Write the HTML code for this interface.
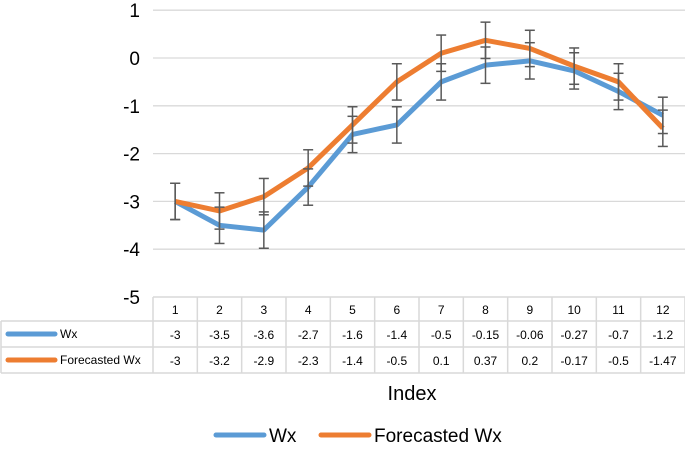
<!DOCTYPE html>
<html><head><meta charset="utf-8"><style>
body{margin:0;background:#fff;font-family:"Liberation Sans",sans-serif}
</style></head><body>
<svg width="685" height="448" id="c" font-family="Liberation Sans, sans-serif"></svg>
<script>
const categories=[1,2,3,4,5,6,7,8,9,10,11,12];
const wx=[-3,-3.5,-3.6,-2.7,-1.6,-1.4,-0.5,-0.15,-0.06,-0.27,-0.7,-1.2];
const forecast=[-3,-3.2,-2.9,-2.3,-1.4,-0.5,0.1,0.37,0.2,-0.17,-0.5,-1.47];
const wxLabels=["-3","-3.5","-3.6","-2.7","-1.6","-1.4","-0.5","-0.15","-0.06","-0.27","-0.7","-1.2"];
const fcLabels=["-3","-3.2","-2.9","-2.3","-1.4","-0.5","0.1","0.37","0.2","-0.17","-0.5","-1.47"];
const yTicks=[1,0,-1,-2,-3,-4,-5];
const errAmt=0.38;
const svg=document.getElementById('c');const NS='http://www.w3.org/2000/svg';
function mk(t,a,p){const e=document.createElementNS(NS,t);for(const k in a)e.setAttribute(k,a[k]);(p||svg).appendChild(e);return e;}
const L=153,CW=(685-L)/12;
const y=v=>58-v*47.8;
const x=i=>L+CW*(i+0.5);
yTicks.forEach(v=>{
 if(v>-5){const g=mk('line',{x1:L,x2:685,y1:y(v),y2:y(v),stroke:'#d9d9d9','stroke-width':1.3});
 
 }
 const t=mk('text',{x:140,y:y(v)+7,'text-anchor':'end','font-size':19,fill:'#000'});t.textContent=v;
 
 
});
function series(vals,color,name){
 const p=mk('polyline',{points:vals.map((v,i)=>x(i)+','+y(v)).join(' '),fill:'none',stroke:color,'stroke-width':5,'stroke-linejoin':'round'});
 
 
}
function errs(vals,name){
 vals.forEach((v,i)=>{const g=mk('g',{stroke:'#595959','stroke-width':1.5});
 
 
 const a=y(v+errAmt),b=y(v-errAmt),cx=x(i);
 mk('line',{x1:cx,x2:cx,y1:a,y2:b},g);mk('line',{x1:cx-5,x2:cx+5,y1:a,y2:a},g);mk('line',{x1:cx-5,x2:cx+5,y1:b,y2:b},g);});
}
series(wx,'#5b9bd5','wx-line');series(forecast,'#ed7d31','forecast-line');
errs(wx,'wx-error-bar');errs(forecast,'forecast-error-bar');
// table
const rows=[297,321,347,373];
const tb=mk('g',{stroke:'#d9d9d9','stroke-width':1.5,fill:'none'});


mk('line',{x1:L,x2:685,y1:297,y2:297},tb);
[321,347,373].forEach(r=>mk('line',{x1:1,x2:685,y1:r,y2:r},tb));
mk('line',{x1:1,x2:1,y1:321,y2:373},tb);
for(let i=0;i<=12;i++)mk('line',{x1:L+CW*i,x2:L+CW*i,y1:297,y2:373},tb);
function cellText(s,cx,cy,name){const t=mk('text',{x:cx,y:cy,'text-anchor':'middle','font-size':12,fill:'#000'});t.textContent=s;
 
 }
categories.forEach((c,i)=>{cellText(c,x(i),314,'category-label');cellText(wxLabels[i],x(i),339,'wx-value');cellText(fcLabels[i],x(i),365,'forecast-value');});
[['Wx','#5b9bd5',334],['Forecasted Wx','#ed7d31',360]].forEach(([n,c,yy])=>{
 mk('line',{x1:8,x2:55,y1:yy,y2:yy,stroke:c,'stroke-width':5,'stroke-linecap':'round'});
 const t=mk('text',{x:60,y:yy+4,'font-size':12,fill:'#000'});t.textContent=n;
 
 
});
const xt=mk('text',{x:412,y:400,'text-anchor':'middle','font-size':20,fill:'#000'});xt.textContent='Index';


[['Wx','#5b9bd5',216],['Forecasted Wx','#ed7d31',321]].forEach(([n,c,lx])=>{
 const g=mk('g',{});
 
 
 mk('line',{x1:lx,x2:lx+48,y1:435,y2:435,stroke:c,'stroke-width':5,'stroke-linecap':'round'},g);
 const t=mk('text',{x:lx+53,y:442,'font-size':19,fill:'#000'},g);t.textContent=n;
});
</script>
</body></html>
